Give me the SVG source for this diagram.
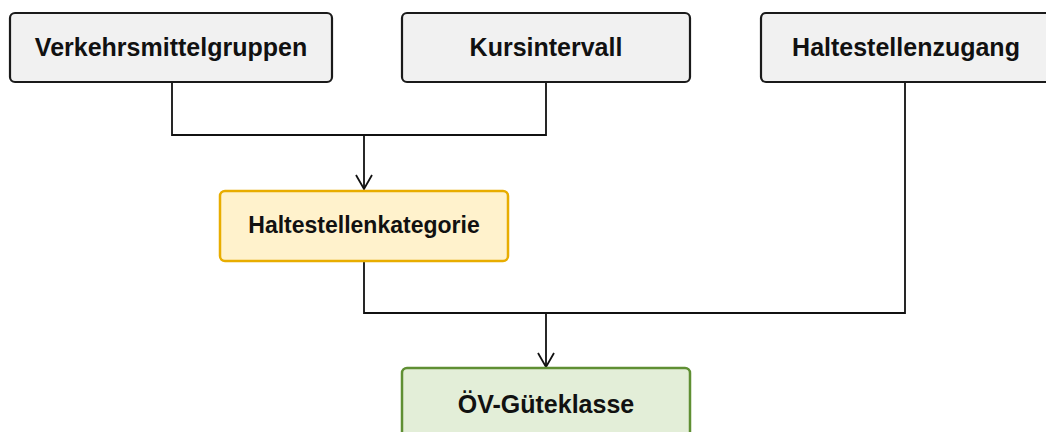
<svg xmlns="http://www.w3.org/2000/svg" width="1046" height="432" viewBox="0 0 1046 432">
<style>
.box{fill:#f1f1f1;stroke:#1a1a1a;stroke-width:2.2}
.cat{fill:#fff2cc;stroke:#e8ad00;stroke-width:2.5}
.res{fill:#e3eed8;stroke:#5f8f33;stroke-width:2.5}
.t{font-family:"Liberation Sans",Arial,sans-serif;font-weight:bold;fill:#111;text-anchor:middle;dominant-baseline:central}
.c{fill:none;stroke:#111;stroke-width:1.8}
</style>
<defs>
<marker id="arr" viewBox="0 0 18 18" refX="16" refY="9" markerWidth="18" markerHeight="18" markerUnits="userSpaceOnUse" orient="auto">
<path d="M2,1 L16,9 L2,17" fill="none" stroke="#111" stroke-width="1.8"/>
</marker>
</defs>
<g id="connectors">
<path class="c" d="M172,82 V135 H546 V82"/>
<path class="c" d="M364,135 V189" marker-end="url(#arr)"/>
<path class="c" d="M364,261 V313 H905 V82"/>
<path class="c" d="M546,313 V367" marker-end="url(#arr)"/>
</g>
<g id="n1"><rect class="box" x="10" y="13" width="322" height="69" rx="5"/><text class="t" x="171" y="47" font-size="25">Verkehrsmittelgruppen</text></g>
<g id="n2"><rect class="box" x="402" y="13" width="288" height="69" rx="5"/><text class="t" x="546" y="47" font-size="25">Kursintervall</text></g>
<g id="n3"><rect class="box" x="761" y="13" width="290" height="69" rx="5"/><text class="t" x="906" y="47" font-size="25">Haltestellenzugang</text></g>
<g id="n4"><rect class="cat" x="220" y="191" width="288" height="70" rx="5"/><text class="t" x="364" y="225" font-size="23">Haltestellenkategorie</text></g>
<g id="n5"><rect class="res" x="402" y="368" width="288" height="80" rx="5"/><text class="t" x="546" y="404" font-size="25">ÖV-Güteklasse</text></g>
</svg>
